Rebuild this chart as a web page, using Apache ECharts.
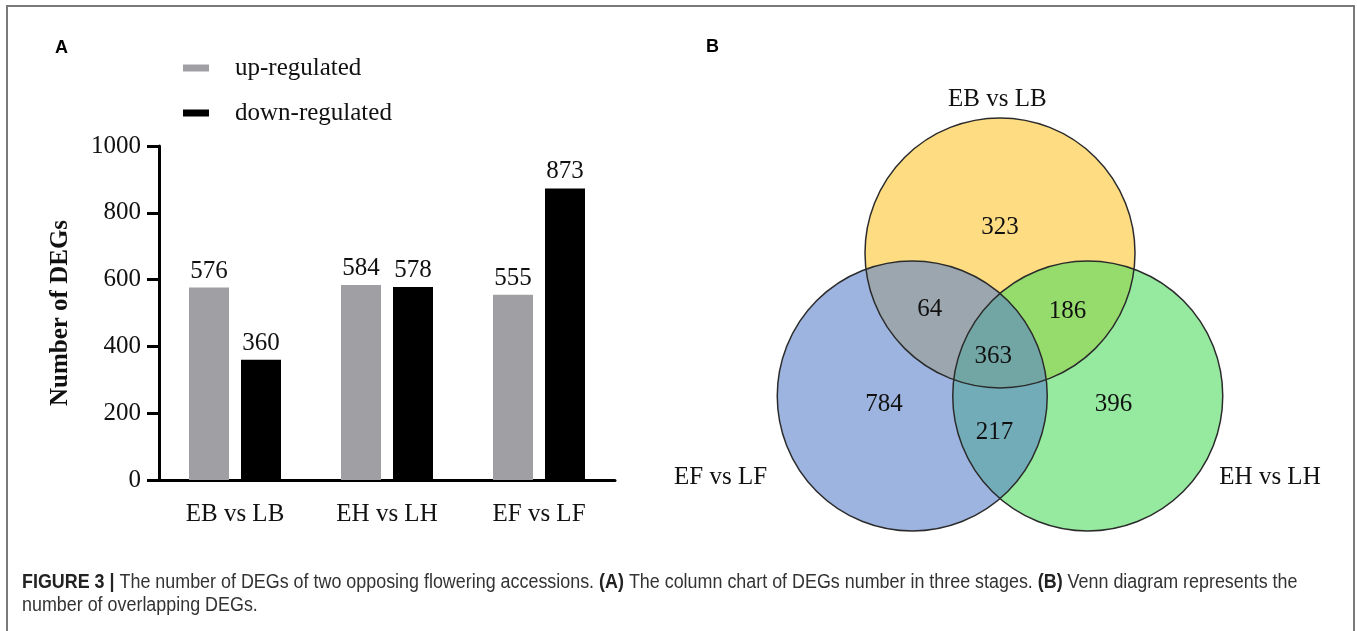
<!DOCTYPE html>
<html>
<head>
<meta charset="utf-8">
<script src="https://cdn.jsdelivr.net/npm/echarts@6/dist/echarts.min.js"></script>
<style>
html,body{margin:0;padding:0;background:#fff;}
#main{width:1357px;height:631px;}
</style>
</head>
<body>
<div id="main"></div>
<script>
// ---- Panel A data ----
const categories = ['EB vs LB', 'EH vs LH', 'EF vs LF'];
const upRegulated = [576, 584, 555];
const downRegulated = [360, 578, 873];
const seriesNames = ['up-regulated', 'down-regulated'];
const yMin = 0, yMax = 1000, yInterval = 200;

// ---- Panel B data ----
const vennSetNames = ['EB vs LB', 'EH vs LH', 'EF vs LF'];
const vennRegionCounts = [323, 64, 186, 363, 784, 217, 396];

// ---- Panel B layout (unit = circle radius) ----
const vennCircleCenters = [[0, 1.06], [0.65, 0], [-0.65, 0]];   // EB, EH, EF
const vennRegionPos = [[0, 1.25], [-0.52, 0.64], [0.5, 0.63], [-0.05, 0.29], [-0.86, -0.06], [-0.04, -0.27], [0.84, -0.06]];
const vennSetLabelPos = [[-0.02, 2.2], [2.0, -0.6], [-2.07, -0.6]];
const vennFills = ['rgba(252,197,47,0.6)', 'rgba(80,220,95,0.6)', 'rgba(92,130,203,0.6)'];

const serif = "'Liberation Serif', 'Times New Roman', serif";
const sans = "'Liberation Sans', Arial, sans-serif";

const chart = echarts.init(document.getElementById('main'), null, {renderer: 'canvas'});

function circleItem(stroke) {
  return function (params, api) {
    const c = api.coord([api.value(0), api.value(1)]);
    const r = api.size([1, 0])[0];
    return {
      type: 'circle',
      shape: {cx: c[0], cy: c[1], r: r},
      style: stroke
        ? {fill: 'none', stroke: '#2b2b2b', lineWidth: 1.5}
        : {fill: vennFills[params.dataIndex], stroke: 'none'}
    };
  };
}

const labelFont = {fontFamily: serif, fontSize: 25, color: '#111111', opacity: 1};

const option = {
  backgroundColor: '#ffffff',
  animation: false,
  legend: {
    data: seriesNames,
    orient: 'vertical',
    left: 178,
    top: 48,
    itemWidth: 26,
    itemHeight: 7,
    itemGap: 15,
    icon: 'rect',
    textStyle: {fontFamily: serif, fontSize: 25, color: '#111', lineHeight: 30, padding: [0, 0, 0, 21]}
  },
  grid: [
    {left: 159, top: 146, width: 456, height: 334},
    {left: 703, top: 72, width: 607.5, height: 540}
  ],
  xAxis: [
    {
      type: 'category', gridIndex: 0, data: categories,
      axisLine: {lineStyle: {color: '#000', width: 3}},
      axisTick: {alignWithLabel: true, length: 13, lineStyle: {color: '#000', width: 3}},
      axisLabel: {fontFamily: serif, fontSize: 25, color: '#111', margin: 22}
    },
    {type: 'value', gridIndex: 1, min: -2.2, max: 2.3, show: false}
  ],
  yAxis: [
    {
      type: 'value', gridIndex: 0, min: yMin, max: yMax, interval: yInterval,
      name: 'Number of DEGs', nameLocation: 'middle', nameGap: 86,
      nameTextStyle: {fontFamily: serif, fontSize: 25, fontWeight: 'bold', color: '#111'},
      axisLine: {show: true, lineStyle: {color: '#000', width: 3}},
      axisTick: {show: true, length: 12, lineStyle: {color: '#000', width: 3}},
      axisLabel: {fontFamily: serif, fontSize: 25, color: '#111', margin: 18, formatter: v => String(v)},
      splitLine: {show: false}
    },
    {type: 'value', gridIndex: 1, min: -1.6, max: 2.4, show: false}
  ],
  series: [
    {
      name: seriesNames[0], type: 'bar', xAxisIndex: 0, yAxisIndex: 0,
      data: upRegulated, barWidth: 40, barGap: '30%',
      itemStyle: {color: '#a0a0a4'},
      label: Object.assign({show: true, position: 'top', distance: 4}, labelFont)
    },
    {
      name: seriesNames[1], type: 'bar', xAxisIndex: 0, yAxisIndex: 0,
      data: downRegulated, barWidth: 40, barGap: '30%',
      itemStyle: {color: '#000000'},
      label: Object.assign({show: true, position: 'top', distance: 4}, labelFont)
    },
    {
      type: 'custom', xAxisIndex: 1, yAxisIndex: 1, silent: true,
      renderItem: circleItem(false),
      data: vennCircleCenters, z: 1
    },
    {
      type: 'custom', xAxisIndex: 1, yAxisIndex: 1, silent: true,
      renderItem: circleItem(true),
      data: vennCircleCenters, z: 2
    },
    {
      type: 'scatter', xAxisIndex: 1, yAxisIndex: 1, silent: true, symbolSize: 0, z: 3,
      itemStyle: {opacity: 1},
      data: vennRegionCounts.map((v, i) => [vennRegionPos[i][0], vennRegionPos[i][1], v]),
      label: Object.assign({show: true, position: 'inside', formatter: p => String(p.value[2])}, labelFont)
    },
    {
      type: 'scatter', xAxisIndex: 1, yAxisIndex: 1, silent: true, symbolSize: 0, z: 3,
      itemStyle: {opacity: 1},
      data: vennSetNames.map((n, i) => ({value: [vennSetLabelPos[i][0], vennSetLabelPos[i][1]], name: n})),
      label: Object.assign({show: true, position: 'inside', formatter: p => p.name}, labelFont)
    }
  ],
  graphic: [
    {
      type: 'rect', silent: true, z: 100,
      shape: {x: 7, y: 6, width: 1347, height: 700},
      style: {fill: 'none', stroke: '#7a7a7a', lineWidth: 2}
    },
    {
      type: 'text', x: 55, y: 39, silent: true,
      style: {text: 'A', fontFamily: sans, fontWeight: 'bold', fontSize: 18, fill: '#000'}
    },
    {
      type: 'text', x: 706, y: 38, silent: true,
      style: {text: 'B', fontFamily: sans, fontWeight: 'bold', fontSize: 18, fill: '#000'}
    },
    {
      type: 'text', x: 22, y: 571, scaleX: 0.895, silent: true,
      style: {
        text: '{b|FIGURE 3 |} The number of DEGs of two opposing flowering accessions. {b|(A)} The column chart of DEGs number in three stages. {b|(B)} Venn diagram represents the\nnumber of overlapping DEGs.',
        fontFamily: sans, fontSize: 20, fill: '#333', lineHeight: 23,
        rich: {b: {fontFamily: sans, fontSize: 20, fontWeight: 'bold', fill: '#222', lineHeight: 23}}
      }
    }
  ]
};
chart.setOption(option);
</script>
</body>
</html>
